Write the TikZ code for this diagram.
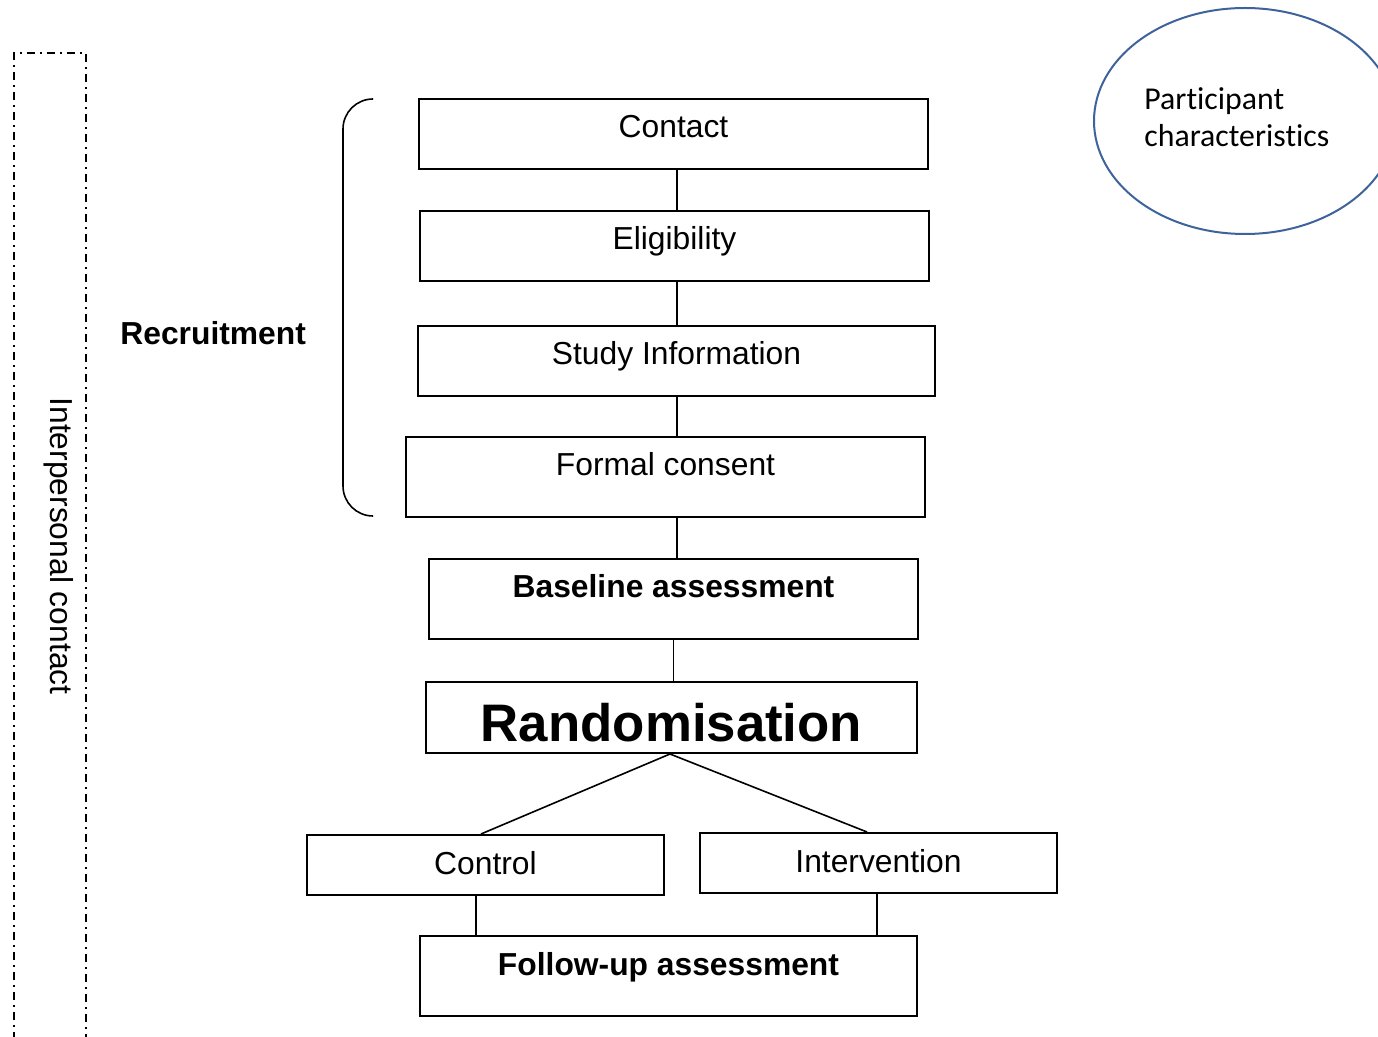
\documentclass[tikz,border=0pt]{standalone}
\usepackage{fontspec}
\setmainfont{Liberation Sans}
\newfontfamily\carlito[Ligatures={NoCommon,NoContextual}]{Carlito}
\usetikzlibrary{calc}
\definecolor{ellblue}{RGB}{62,99,155}
\newcommand\stagesize{\fontsize{15.9}{19}\selectfont}

\tikzset{
  stage/.style 2 args={draw, line width=1pt, inner sep=0pt, anchor=north,
    minimum width=#1, text height=19.5pt, text depth=#2, font=\stagesize},
  link/.style={line width=0.8pt},
  frame/.style={line width=0.7pt, dash pattern=on 4pt off 2.5pt on 1pt off 2.5pt},
}

\begin{document}
\begin{tikzpicture}[x=0.5pt, y=-0.5pt]
\useasboundingbox (0,0) rectangle (1378,1037);
\clip (0,0) rectangle (1378,1037);

% side frame
\draw[frame] (14,1060) |- (86,53) -- (86,1060);
\node[rotate=-90, inner sep=0pt, font=\stagesize] (interp) at (59,546) {Interpersonal contact};

% recruitment
\node[stage={254.5pt}{15.5pt}] (contact) at (673.5,98) {Contact};
\node[stage={254.5pt}{15.5pt}] (elig) at (674.5,210) {Eligibility};
\node[stage={258.5pt}{15.5pt}] (study) at (676.5,325) {Study Information};
\node[stage={259.5pt}{20.5pt}] (consent) at (665.5,436) {Formal consent};
\draw[line width=0.8pt, rounded corners=15pt] (372,99) -- (343,99) -- (343,516) -- (372,516);
\node[anchor=base west, inner sep=0pt, font=\stagesize\bfseries] (recruit) at (120,345) {Recruitment};

% assessment and trial arms
\node[stage={244.5pt}{20.5pt}, font=\stagesize\bfseries] (baseline) at (673.5,558) {Baseline assessment};
\node[stage={245.5pt}{5.5pt}, text height=30pt, font=\fontsize{26.4}{30}\selectfont\bfseries] (random) at (671.5,681) {Randomisation};
\node[stage={178.5pt}{10.5pt}] (control) at (485.5,834) {Control};
\node[stage={178.5pt}{10.5pt}] (interv) at (878.5,832) {Intervention};
\node[stage={248.5pt}{20.5pt}, font=\stagesize\bfseries] (followup) at (668.5,935) {Follow-up assessment};

% participant characteristics
\draw[ellblue, line width=1pt] (1245,121) ellipse [x radius=151, y radius=113];
\node[anchor=base west, align=left, inner sep=0pt, font=\carlito\fontsize{15.9}{18.5}\selectfont] (partic) at (1144,147) {Participant\\characteristics};

% connectors
\coordinate (spine) at (677,0);
\draw[link] (contact.south -| spine) -- (elig.north -| spine);
\draw[link] (elig.south -| spine) -- (study.north -| spine);
\draw[link] (study.south -| spine) -- (consent.north -| spine);
\draw[link] (consent.south -| spine) -- (baseline.north -| spine);
\draw[link] (baseline.south) -- (random.north -| baseline.south);
\draw[link] ([xshift=-0.75pt]random.south) -- ([xshift=-2.25pt]control.north);
\draw[link] ([xshift=-0.75pt]random.south) -- ([xshift=-5.75pt]interv.north);
\draw[link] ([xshift=-4.75pt]control.south) coordinate (cfoot) -- (followup.north -| cfoot);
\draw[link] ([xshift=-0.75pt]interv.south) coordinate (ifoot) -- (followup.north -| ifoot);
\end{tikzpicture}
\end{document}
